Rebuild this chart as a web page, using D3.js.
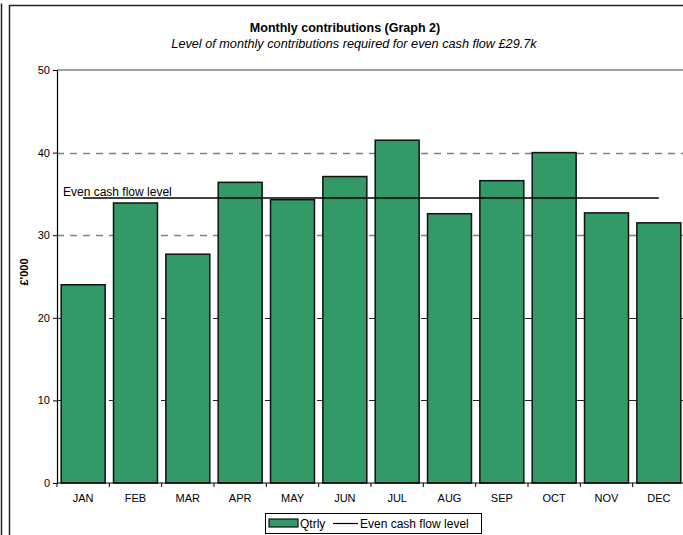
<!DOCTYPE html>
<html>
<head>
<meta charset="utf-8">
<script src="https://cdn.jsdelivr.net/npm/d3@7"></script>
<style>
  body{margin:0;background:#fff;}
  svg text{font-family:"Liberation Sans",Arial,sans-serif;fill:#000;}
</style>
</head>
<body>
<div id="chart"></div>
<script>
// data
var months=["JAN","FEB","MAR","APR","MAY","JUN","JUL","AUG","SEP","OCT","NOV","DEC"];
var qtrly=[24.0,33.9,27.7,36.4,34.3,37.1,41.5,32.6,36.6,40.0,32.7,31.5];
var evenLevel=34.5;
var yTicks=[0,10,20,30,40,50];

var W=683,H=535;
var plotLeft=57,plotRight=685,plotTop=70,plotBottom=483;

var svg=d3.select('#chart').append('svg')
    .attr('width',W)
    .attr('height',H);

// frame lines
svg.append('line').attr('x1',1.5).attr('x2',1.5).attr('y1',3.5).attr('y2',H)
    .attr('stroke','#222').attr('stroke-width',1.5);
svg.append('rect').attr('x',9.5).attr('y',5.5).attr('width',W).attr('height',H)
    .attr('fill','none').attr('stroke','#222').attr('stroke-width',1.5);

var x=d3.scaleBand().domain(months).range([plotLeft,plotRight]).paddingInner(0.16).paddingOuter(0.08);
var y=d3.scaleLinear().domain([0,50]).range([plotBottom,plotTop]);

// gridlines
svg.selectAll('.grid').data(yTicks.filter(function(d){return d>0 && d<50;}))
    .enter().append('line')
        .attr('class','grid')
        .attr('x1',plotLeft).attr('x2',plotRight)
        .attr('y1',function(d){return Math.round(y(d))+0.5;})
        .attr('y2',function(d){return Math.round(y(d))+0.5;})
        .attr('stroke',function(d){return d>=30?'#808080':'#222';})
        .attr('stroke-width',function(d){return d>=30?1.5:1;})
        .attr('stroke-dasharray','7,6');
// top border of plot area
svg.append('line').attr('x1',plotLeft).attr('x2',plotRight).attr('y1',y(50)).attr('y2',y(50))
    .attr('stroke','#808080').attr('stroke-width',1.5);

// bars
svg.selectAll('.bar').data(qtrly)
    .enter().append('rect')
        .attr('class','bar')
        .attr('x',function(d,i){return x(months[i]);})
        .attr('y',function(d){return y(d);})
        .attr('width',x.bandwidth())
        .attr('height',function(d){return y(0)-y(d);})
        .attr('fill','#339966')
        .attr('stroke','#111')
        .attr('stroke-width',1.5);

// even cash flow line
svg.append('line')
    .attr('x1',x(months[0])+x.bandwidth()/2)
    .attr('x2',x(months[months.length-1])+x.bandwidth()/2)
    .attr('y1',y(evenLevel)).attr('y2',y(evenLevel))
    .attr('stroke','#000').attr('stroke-width',1.5);
svg.append('text')
    .attr('x',63).attr('y',y(evenLevel)-2.5)
    .style('font-size','12px')
    .text('Even cash flow level');

// y axis
var yAxis=svg.append('g')
    .attr('transform','translate('+plotLeft+',0)')
    .call(d3.axisLeft(y).tickValues(yTicks).tickSize(4).tickPadding(3));
yAxis.select('.domain').attr('stroke','#000').attr('stroke-width',1.2);
yAxis.selectAll('.tick line').attr('stroke','#000');
yAxis.selectAll('text').style('font-size','11px');

// x axis (ticks between categories)
svg.append('line').attr('x1',plotLeft).attr('x2',plotRight).attr('y1',plotBottom).attr('y2',plotBottom)
    .attr('stroke','#000').attr('stroke-width',1.2);
var bounds=months.map(function(m){return x(m)-x.step()*x.paddingInner()/2;});
bounds.push(plotRight);
svg.selectAll('.xtick').data(bounds)
    .enter().append('line')
        .attr('x1',function(d){return d;}).attr('x2',function(d){return d;})
        .attr('y1',plotBottom).attr('y2',plotBottom+4)
        .attr('stroke','#000');
svg.selectAll('.xlab').data(months)
    .enter().append('text')
        .attr('x',function(d){return x(d)+x.bandwidth()/2;})
        .attr('y',502)
        .attr('text-anchor','middle')
        .style('font-size','11px')
        .text(function(d){return d;});

// y title
svg.append('text')
    .attr('transform','translate(28,272) rotate(-90)')
    .attr('text-anchor','middle')
    .style('font-size','11px').style('font-weight','bold')
    .text("£'000");

// titles
svg.append('text').attr('x',345).attr('y',32).attr('text-anchor','middle')
    .style('font-size','12.5px').style('font-weight','bold')
    .text('Monthly contributions (Graph 2)');
svg.append('text').attr('x',354).attr('y',48).attr('text-anchor','middle')
    .style('font-size','12.7px').style('font-style','italic')
    .text('Level of monthly contributions required for even cash flow £29.7k');

// legend
var lg=svg.append('g').attr('transform','translate(265,513)');
lg.append('rect').attr('x',0.5).attr('y',0.5).attr('width',216).attr('height',20)
    .attr('fill','#fff').attr('stroke','#000');
lg.append('rect').attr('x',4).attr('y',6).attr('width',29).attr('height',8)
    .attr('fill','#339966').attr('stroke','#111').attr('stroke-width',1.2);
lg.append('text').attr('x',35).attr('y',14.5).style('font-size','12px').text('Qtrly');
lg.append('line').attr('x1',68).attr('x2',93).attr('y1',10.5).attr('y2',10.5)
    .attr('stroke','#000').attr('stroke-width',1.2);
lg.append('text').attr('x',95).attr('y',14.5).style('font-size','12px').text('Even cash flow level');
</script>
</body>
</html>
